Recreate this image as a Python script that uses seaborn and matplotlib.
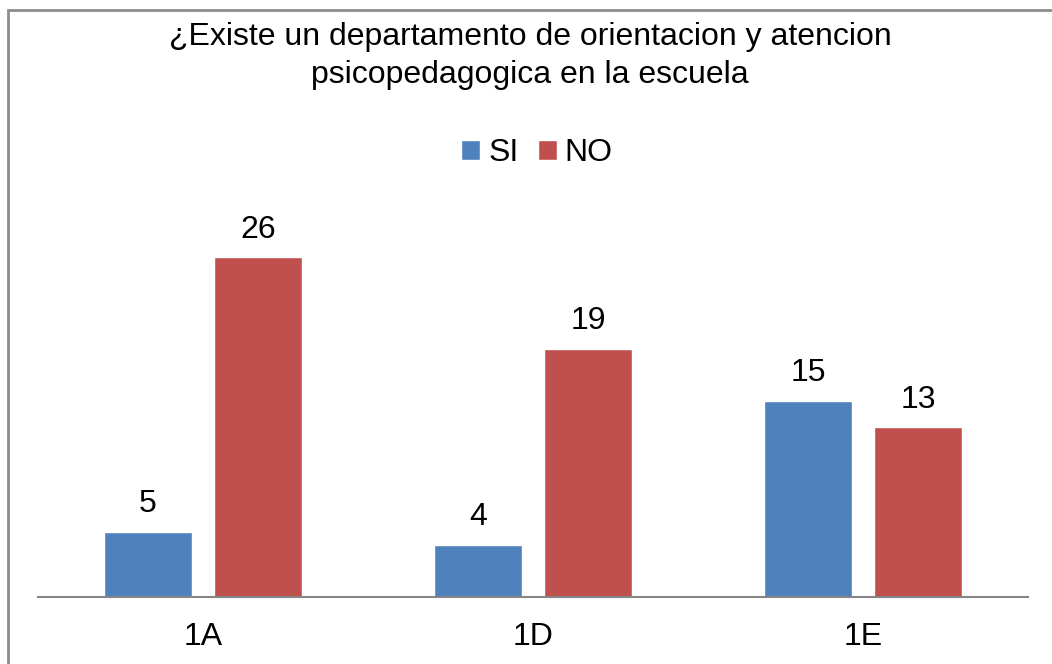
import pandas as pd
import seaborn as sns
import matplotlib.pyplot as plt
from matplotlib.patches import Rectangle

# values
groups = ["1A", "1D", "1E"]
si_values = [5, 4, 15]
no_values = [26, 19, 13]
series = ["SI", "NO"]

df = pd.DataFrame({
    "grupo": groups * 2,
    "respuesta": ["SI"] * 3 + ["NO"] * 3,
    "valor": si_values + no_values,
})

sns.set_style("white")
plt.rcParams['font.family'] = ['Liberation Sans', 'DejaVu Sans']
plt.rcParams['text.color'] = 'black'
plt.rcParams['xtick.color'] = 'black'

FS = 23

fig = plt.figure(figsize=(10.52, 6.64), dpi=100)
ax = fig.add_axes([38 / 1052, 0.1009, 990 / 1052, 0.5904])

palette = {"SI": "#4F81BD", "NO": "#C0504D"}
sns.barplot(data=df, x="grupo", y="valor", hue="respuesta", hue_order=series,
            order=groups, palette=palette, width=0.6667, gap=0.2,
            saturation=1, ax=ax)

for cont in ax.containers:
    ax.bar_label(cont, fontsize=FS, padding=9, color="black")

ax.set_ylim(0, 30)
ax.set_xlim(-0.5, 2.5)
ax.set_xlabel("")
ax.set_ylabel("")
ax.set_yticks([])
for s in ["left", "right", "top"]:
    ax.spines[s].set_visible(False)
ax.spines["bottom"].set_color("#868686")
ax.spines["bottom"].set_linewidth(1.5)
ax.tick_params(axis="x", length=0, labelsize=FS, pad=18, labelcolor="black")

# legend under the title
handles, labels = ax.get_legend_handles_labels()
ax.legend(handles, labels, loc="center", bbox_to_anchor=(537 / 1052, 1 - 153 / 664),
          bbox_transform=fig.transFigure, ncol=2, frameon=False, fontsize=FS,
          handlelength=0.6, handleheight=0.6, handletextpad=0.25, columnspacing=0.6)

fig.text(530 / 1052, 1 - 56 / 664,
         "¿Existe un departamento de orientacion y atencion\npsicopedagogica en la escuela",
         ha="center", va="center", fontsize=FS, linespacing=1.38, color="black")

# chart border (right and bottom run off the image)
fig.patches.append(Rectangle((8 / 1052, -0.05), 1.1, 1 - 10 / 664 + 0.05,
                             transform=fig.transFigure, fill=False,
                             edgecolor="#8c8c8c", linewidth=2))

fig.savefig("out.png", dpi=100)
